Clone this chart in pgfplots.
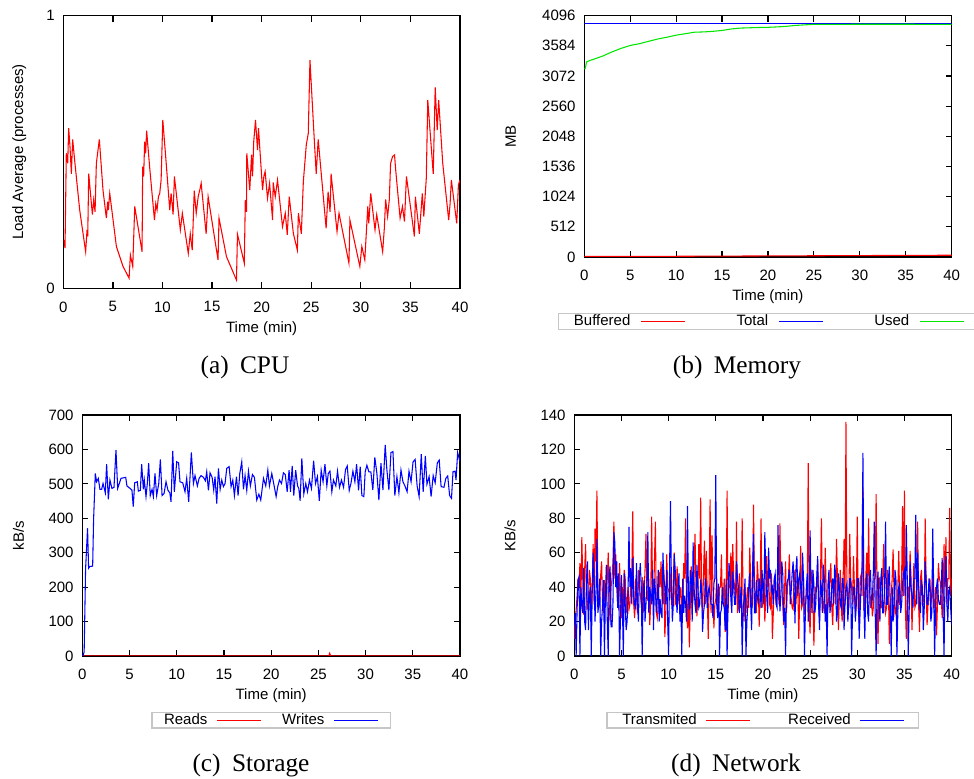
\documentclass[border=0pt]{standalone}
\usepackage{pgfplots}
\pgfplotsset{compat=1.18}
\usepackage{fontspec}
\setmainfont{Liberation Sans}
\newfontfamily\capfont{Liberation Serif}
\definecolor{gpred}{RGB}{255,0,0}
\definecolor{gpblue}{RGB}{0,0,255}
\definecolor{gpgreen}{RGB}{0,230,0}
\pgfplotsset{
  gp/.style={
    scale only axis,
    xmin=0, xmax=40,
    xtick={0,5,...,40},
    tick align=inside,
    major tick length=4.5pt,
    axis line style={line width=0.9pt, black},
    every tick/.style={black, line width=0.9pt},
    tick label style={font=\fontsize{11.25}{13}\selectfont},
    label style={font=\fontsize{11.25}{13}\selectfont},
    /pgf/number format/assume math mode=true,
    /pgf/number format/1000 sep={},
    scaled ticks=false,
    xlabel={Time (min)},
    xticklabel style={yshift=-6.5pt},
    yticklabel style={xshift=-3pt},
    legend columns=-1,
    legend plot pos=right,
    legend cell align=left,
    legend image code/.code={\draw[#1, line width=0.9pt] (0pt,0pt) -- (33pt,0pt);},
    legend style={draw=gray!45, line width=0.8pt, fill=white,
      font=\fontsize{11.25}{13}\selectfont, anchor=north,
      inner ysep=0.5pt, nodes={inner sep=0.5pt}},
    every axis plot/.append style={line width=0.8pt},
  }
}
\begin{document}
\begin{tikzpicture}[x=1pt,y=1pt]
\useasboundingbox (0,0) rectangle (730.5,583.5);

% (a) CPU
\begin{axis}[gp, at={(47.5pt,367.3pt)}, anchor=south west,
  width=297.5pt, height=204.5pt,
  ymin=0, ymax=1, ytick={0,1},
  ylabel={Load Average (processes)},
  ylabel style={at={(axis description cs:-0.111,0.5)}, anchor=center},
  xlabel style={at={(axis description cs:0.5,-0.147)}, anchor=center}]
\addplot[gpred] coordinates {
(0.07,0.177)(0.17,0.147)(0.3,0.495)(0.44,0.458)(0.54,0.587)(0.67,0.52)(0.81,0.42)(0.94,0.546)
(1.14,0.47)(1.65,0.287)(2.25,0.134)(2.39,0.214)(2.46,0.19)(2.56,0.42)(2.93,0.27)(3.06,0.324)
(3.2,0.28)(3.33,0.458)(3.63,0.546)(4.0,0.36)(4.34,0.257)(4.47,0.318)(4.54,0.287)(4.68,0.348)
(5.35,0.153)(6.02,0.08)(6.63,0.037)(6.76,0.122)(7.0,0.08)(7.2,0.3)(7.94,0.134)(8.0,0.446)
(8.1,0.41)(8.2,0.538)(8.3,0.495)(8.4,0.578)(8.7,0.446)(9.19,0.25)(9.32,0.31)(9.45,0.287)
(9.59,0.336)(9.72,0.348)(9.86,0.397)(10.03,0.617)(10.4,0.446)(10.73,0.287)(10.87,0.348)
(11.07,0.27)(11.2,0.41)(11.8,0.214)(12.0,0.275)(12.6,0.128)(12.8,0.2)(13.0,0.14)(13.2,0.358)
(13.4,0.275)(13.6,0.336)(13.8,0.367)(13.9,0.385)(14.4,0.2)(14.6,0.336)(15.6,0.104)(15.7,0.257)
(16.45,0.116)(17.46,0.03)(17.56,0.198)(18.25,0.092)(18.35,0.324)(18.47,0.28)(18.5,0.495)
(18.8,0.36)(18.98,0.49)(19.08,0.41)(19.2,0.538)(19.38,0.617)(19.58,0.507)(19.68,0.587)
(20.09,0.36)(20.22,0.41)(20.35,0.428)(20.59,0.33)(20.8,0.385)(21.1,0.25)(21.16,0.388)
(21.37,0.336)(21.6,0.397)(22.1,0.226)(22.38,0.275)(22.58,0.196)(22.78,0.336)(23.2,0.2)
(23.6,0.14)(23.7,0.275)(24.0,0.2)(24.2,0.39)(24.5,0.526)(24.7,0.568)(24.87,0.837)(25.27,0.568)
(25.5,0.42)(25.7,0.546)(26.5,0.22)(26.7,0.354)(26.9,0.28)(27.0,0.42)(27.6,0.208)(27.8,0.275)
(28.8,0.092)(28.9,0.25)(29.9,0.08)(30.1,0.153)(30.4,0.104)(30.7,0.3)(30.8,0.238)(31.0,0.348)
(31.43,0.214)(31.6,0.27)(32.2,0.134)(32.37,0.22)(32.5,0.326)(32.7,0.263)(32.87,0.324)
(33.0,0.458)(33.2,0.483)(33.4,0.489)(33.5,0.44)(33.96,0.257)(34.2,0.3)(34.4,0.245)(34.6,0.41)
(35.4,0.19)(35.5,0.336)(35.9,0.2)(36.2,0.348)(36.35,0.263)(36.6,0.403)(36.75,0.69)(37.3,0.42)
(37.5,0.737)(37.7,0.58)(37.85,0.69)(38.26,0.458)(38.86,0.25)(39.0,0.31)(39.13,0.397)
(39.67,0.238)(39.84,0.379)(40.0,0.397)};
\end{axis}

% (b) Memory
\begin{axis}[gp, at={(438.2pt,390.75pt)}, anchor=south west,
  width=275.5pt, height=181pt,
  ymin=0, ymax=4096, ytick={0,512,...,4096},
  ytick pos=right, yticklabel pos=left,
  ylabel={MB},
  ylabel style={at={(axis description cs:-0.2,0.5)}, anchor=center},
  xlabel style={at={(axis description cs:0.5,-0.166)}, anchor=center},
  legend style={at={(0.503,-0.232)}, inner xsep=11pt,
    /tikz/every even column/.append style={column sep=37.5pt},
    /tikz/every odd column/.append style={column sep=7.2pt}}]
\addplot[color=gpred] coordinates {(0,8)(10,12)(20,18)(30,24)(40,30)};
\addlegendentry{Buffered}
\addplot[color=gpblue, line width=0.9pt] coordinates {(0,3966)(40,3966)};
\addlegendentry{Total}
\addplot[color=gpgreen] coordinates {(0,3191)(0.1,3200)(0.25,3310)(0.6,3335)(1,3355)(2,3410)(3,3480)
(4,3540)(5,3590)(6,3620)(7,3660)(8,3700)(9,3730)(10,3765)(11,3790)(12,3815)(13,3820)
(14,3830)(15,3845)(16,3870)(17,3885)(18,3890)(19,3895)(20,3898)(21,3905)(22,3915)
(23,3930)(24,3940)(25,3948)(30,3950)(35,3950)(40,3948)};
\addlegendentry{Used}
\end{axis}

% (c) Storage
\begin{axis}[gp, at={(61.7pt,91.5pt)}, anchor=south west,
  width=283.3pt, height=180.75pt,
  ymin=0, ymax=700, ytick={0,100,...,700},
  ylabel={kB/s},
  ylabel style={at={(axis description cs:-0.169,0.5)}, anchor=center},
  xlabel style={at={(axis description cs:0.5,-0.165)}, anchor=center},
  legend style={at={(0.5,-0.232)}, inner xsep=8.5pt,
    /tikz/every even column/.append style={column sep=14.7pt},
    /tikz/every odd column/.append style={column sep=6.5pt}}]
\addplot[gpred] coordinates {(0,0)(26.1,0)(26.2,8)(26.3,0)(40,0)};
\addlegendentry{Reads}
\addplot[gpblue] coordinates {
(0.07,0)(0.2,12)(0.35,252)(0.56,371)(0.67,255)(0.8,260)(1.1,261)(1.2,397)(1.38,530)(1.52,506)
(1.7,516)(1.87,484)(2.05,484)(2.2,501)(2.44,474)(2.58,557)(2.76,455)(2.93,511)(3.14,487)
(3.36,490)(3.57,598)(3.75,487)(3.92,501)(4.1,516)(4.6,519)(4.73,494)(5.05,487)(5.26,482)
(5.4,434)(5.55,503)(5.83,506)(5.94,479)(6.15,481)(6.29,557)(6.47,484)(6.57,511)(6.75,463)
(6.89,501)(7.03,560)(7.2,466)(7.39,484)(7.53,463)(7.7,530)(7.88,466)(8.1,501)(8.27,571)
(8.45,466)(8.66,472)(8.87,506)(9.08,481)(9.27,474)(9.4,448)(9.58,596)(9.75,477)(10.0,564)
(10.2,561)(10.35,506)(10.64,503)(10.88,477)(11.06,516)(11.27,448)(11.55,591)(11.77,501)
(11.94,524)(12.19,494)(12.37,516)(12.58,524)(12.83,519)(13.04,509)(13.18,535)(13.36,481)
(13.53,532)(13.75,519)(13.92,482)(14.06,521)(14.24,443)(14.42,545)(14.6,484)(14.77,511)
(14.95,492)(15.12,501)(15.3,545)(15.55,550)(15.76,492)(15.94,511)(16.11,466)(16.33,521)
(16.5,466)(16.68,530)(16.89,564)(17.07,484)(17.24,524)(17.42,481)(17.6,537)(17.8,494)
(18.02,527)(18.23,519)(18.48,453)(18.7,470)(18.9,453)(19.19,516)(19.43,494)(19.65,540)
(19.82,494)(20.07,530)(20.32,494)(20.53,463)(20.7,492)(20.88,511)(21.1,501)(21.3,532)
(21.5,527)(21.7,477)(21.9,540)(22.05,477)(22.23,552)(22.4,466)(22.6,540)(22.8,494)
(22.93,487)(23.07,451)(23.25,574)(23.46,471)(23.67,501)(23.85,477)(24.06,511)(24.27,487)
(24.5,567)(24.7,501)(24.9,521)(25.1,451)(25.3,540)(25.5,506)(25.7,557)(25.9,494)(26.05,530)
(26.23,537)(26.43,477)(26.6,511)(26.85,494)(27.03,537)(27.24,490)(27.45,511)(27.67,490)
(27.88,542)(28.06,552)(28.27,481)(28.45,501)(28.66,537)(28.87,506)(29.05,557)(29.26,481)
(29.43,550)(29.61,466)(29.82,463)(29.96,535)(30.14,554)(30.35,535)(30.56,535)(30.77,482)
(30.98,577)(31.2,530)(31.41,453)(31.63,560)(31.84,482)(32.08,613)(32.26,540)(32.47,482)
(32.69,591)(32.9,594)(33.1,466)(33.32,521)(33.53,474)(33.75,540)(33.96,506)(34.17,494)
(34.4,477)(34.6,537)(34.82,506)(35.03,564)(35.25,571)(35.46,494)(35.67,463)(35.9,586)
(36.1,477)(36.33,581)(36.5,499)(36.73,521)(36.94,463)(37.16,524)(37.37,503)(37.6,561)
(37.8,569)(38.0,492)(38.3,490)(38.5,516)(38.7,523)(38.9,466)(39.1,458)(39.26,535)
(39.47,537)(39.58,511)(39.75,591)(40,564)};
\addlegendentry{Writes}
\end{axis}

% (d) Network
\pgfplotstableread{
x tx rx
0.0 10 18
0.1 20 25
0.2 27 0
0.3 35 27
0.4 45 44
0.5 40 46
0.6 54 0
0.7 30 40
0.8 69 30
0.9 45 25
1.0 24 51
1.1 50 20
1.2 65 15
1.3 35 45
1.4 28 55
1.5 30 15
1.6 50 35
1.7 45 40
1.8 28 0
1.9 40 36
2.0 65 60
2.1 30 45
2.2 74 20
2.3 55 36
2.4 96 68
2.5 40 25
2.6 28 30
2.7 35 45
2.8 47 0
2.9 55 20
3.0 30 30
3.1 25 44
3.2 44 0
3.3 30 35
3.4 35 53
3.5 45 20
3.6 60 0
3.7 30 48
3.8 20 52
3.9 40 17
4.0 45 17
4.1 55 30
4.2 78 72
4.3 45 66
4.4 59 40
4.5 40 55
4.6 30 28
4.7 28 48
4.8 54 0
4.9 35 22
5.0 22 47
5.1 40 30
5.2 27 0
5.3 50 48
5.4 45 30
5.5 25 15
5.6 33 20
5.7 40 36
5.8 27 75
5.9 30 40
6.0 45 51
6.1 48 30
6.2 84 57
6.3 30 35
6.4 22 30
6.5 45 28
6.6 35 54
6.7 25 30
6.8 50 20
6.9 40 46
7.0 36 54
7.1 30 40
7.2 46 0
7.3 25 38
7.4 36 44
7.5 50 20
7.6 71 30
7.7 38 42
7.8 32 72
7.9 45 25
8.0 18 40
8.1 30 35
8.2 81 30
8.3 40 50
8.4 30 15
8.5 55 45
8.6 78 38
8.7 25 25
8.8 22 33
8.9 30 50
9.0 49 20
9.1 40 33
9.2 55 25
9.3 35 22
9.4 30 60
9.5 50 45
9.6 11 40
9.7 25 30
9.8 59 50
9.9 40 20
10.0 38 0
10.1 35 50
10.2 48 90
10.3 30 40
10.4 30 20
10.5 45 30
10.6 60 59
10.7 30 50
10.8 31 35
10.9 52 25
11.0 40 40
11.1 30 48
11.2 35 20
11.3 40 30
11.4 26 0
11.5 28 45
11.6 54 25
11.7 45 35
11.8 80 30
11.9 30 20
12.0 16 87
12.1 40 35
12.2 5 27
12.3 30 50
12.4 52 45
12.5 28 20
12.6 33 66
12.7 50 40
12.8 71 30
12.9 40 25
13.0 23 53
13.1 35 42
13.2 65 28
13.3 45 30
13.4 92 43
13.5 35 40
13.6 25 14
13.7 48 25
13.8 67 30
13.9 30 45
14.0 61 40
14.1 35 28
14.2 10 37
14.3 45 40
14.4 91 35
14.5 25 30
14.6 70 30
14.7 40 22
14.8 16 42
14.9 30 45
15.0 33 105
15.1 45 30
15.2 33 22
15.3 25 42
15.4 40 0
15.5 40 25
15.6 59 27
15.7 30 40
15.8 35 30
15.9 45 28
16.0 14 15
16.1 30 45
16.2 96 0
16.3 25 30
16.4 41 54
16.5 40 48
16.6 60 33
16.7 35 25
16.8 65 49
16.9 45 40
17.0 40 30
17.1 30 30
17.2 78 55
17.3 25 45
17.4 28 40
17.5 48 25
17.6 28 33
17.7 35 40
17.8 80 0
17.9 30 28
18.0 20 33
18.1 40 45
18.2 25 0
18.3 35 20
18.4 40 30
18.5 28 40
18.6 63 48
18.7 45 30
18.8 28 15
18.9 30 50
19.0 88 71
19.1 40 25
19.2 36 25
19.3 25 44
19.4 55 35
19.5 45 30
19.6 17 45
19.7 35 40
19.8 80 28
19.9 28 50
20.0 31 40
20.1 45 30
20.2 20 72
20.3 35 48
20.4 58 35
20.5 40 25
20.6 50 63
20.7 30 45
20.8 28 50
20.9 48 38
21.0 10 40
21.1 25 30
21.2 44 45
21.3 40 48
21.4 30 30
21.5 35 28
21.6 42 76
21.7 30 45
21.8 77 26
21.9 45 35
22.0 42 55
22.1 30 48
22.2 18 20
22.3 40 28
22.4 55 0
22.5 25 40
22.6 40 44
22.7 45 45
22.8 59 50
22.9 35 30
23.0 33 38
23.1 28 48
23.2 27 55
23.3 45 40
23.4 50 19
23.5 30 50
23.6 42 58
23.7 40 35
23.8 10 45
23.9 35 48
24.0 64 40
24.1 28 30
24.2 30 60
24.3 45 45
24.4 24 0
24.5 30 25
24.6 35 40
24.7 40 48
24.8 112 20
24.9 25 30
25.0 13 73
25.1 45 38
25.2 50 25
25.3 35 50
25.4 6 42
25.5 28 25
25.6 40 30
25.7 40 45
25.8 55 58
25.9 30 30
26.0 22 15
26.1 45 44
26.2 80 40
26.3 35 25
26.4 30 53
26.5 25 45
26.6 63 20
26.7 40 30
26.8 20 0
26.9 30 42
27.0 35 50
27.1 45 25
27.2 54 30
27.3 28 40
27.4 18 45
27.5 40 30
27.6 44 53
27.7 30 48
27.8 68 20
27.9 45 25
28.0 15 48
28.1 35 40
28.2 50 30
28.3 28 28
28.4 20 45
28.5 45 45
28.6 68 15
28.7 30 30
28.8 136 40
28.9 40 42
29.0 35 20
29.1 28 30
29.2 71 45
29.3 45 45
29.4 40 0
29.5 30 25
29.6 58 40
29.7 40 40
29.8 24 20
29.9 35 30
30.0 81 45
30.1 28 45
30.2 19 10
30.3 45 25
30.4 47 40
30.5 35 48
30.6 98 118
30.7 28 30
30.8 30 10
30.9 45 40
31.0 60 48
31.1 30 25
31.2 80 20
31.3 40 45
31.4 28 50
31.5 35 30
31.6 23 33
31.7 28 48
31.8 45 78
31.9 45 25
32.0 94 0
32.1 30 40
32.2 7 49
32.3 40 30
32.4 46 20
32.5 28 45
32.6 28 51
32.7 45 25
32.8 65 25
32.9 35 42
33.0 25 78
33.1 28 30
33.2 50 30
33.3 40 45
33.4 7 52
33.5 30 28
33.6 36 0
33.7 45 40
33.8 62 20
33.9 35 30
34.0 25 50
34.1 28 45
34.2 18 0
34.3 40 25
34.4 61 40
34.5 30 42
34.6 30 25
34.7 45 30
34.8 87 42
34.9 35 48
35.0 96 50
35.1 28 35
35.2 10 76
35.3 40 45
35.4 40 0
35.5 30 25
35.6 61 55
35.7 45 40
35.8 15 35
35.9 35 28
36.0 54 45
36.1 28 45
36.2 30 82
36.3 40 30
36.4 78 60
36.5 30 42
36.6 14 30
36.7 45 25
36.8 50 44
36.9 35 40
37.0 35 15
37.1 28 28
37.2 80 55
37.3 40 45
37.4 18 30
37.5 30 30
37.6 40 45
37.7 45 40
37.8 30 20
37.9 35 25
38.0 50 74
38.1 28 40
38.2 28 0
38.3 40 28
38.4 12 40
38.5 30 45
38.6 54 33
38.7 45 30
38.8 43 30
38.9 35 40
39.0 22 57
39.1 28 25
39.2 65 0
39.3 40 45
39.4 69 58
39.5 30 30
39.6 45 20
39.7 45 38
39.8 86 40
39.9 35 28
40.0 45 18
}\nettable
\begin{axis}[gp, at={(430.7pt,91.5pt)}, anchor=south west,
  width=283pt, height=180.75pt,
  ymin=0, ymax=140, ytick={0,20,...,140},
  ylabel={KB/s},
  ylabel style={at={(axis description cs:-0.17,0.5)}, anchor=center},
  xlabel style={at={(axis description cs:0.5,-0.165)}, anchor=center},
  legend style={at={(0.5,-0.232)}, inner xsep=11pt,
    /tikz/every even column/.append style={column sep=28pt},
    /tikz/every odd column/.append style={column sep=5.7pt}}]
\addplot[gpred] table[x=x,y=tx] {\nettable};
\addlegendentry{Transmited}
\addplot[gpblue] table[x=x,y=rx] {\nettable};
\addlegendentry{Received}
\end{axis}

% captions
\node[font=\capfont\fontsize{19}{22}\selectfont] at (183.75,308) {(a)\hspace{0.45em}CPU};
\node[font=\capfont\fontsize{19}{22}\selectfont] at (552.75,308) {(b)\hspace{0.45em}Memory};
\node[font=\capfont\fontsize{19}{22}\selectfont] at (188.25,9.75) {(c)\hspace{0.45em}Storage};
\node[font=\capfont\fontsize{19}{22}\selectfont] at (552,9.75) {(d)\hspace{0.45em}Network};
\end{tikzpicture}
\end{document}
